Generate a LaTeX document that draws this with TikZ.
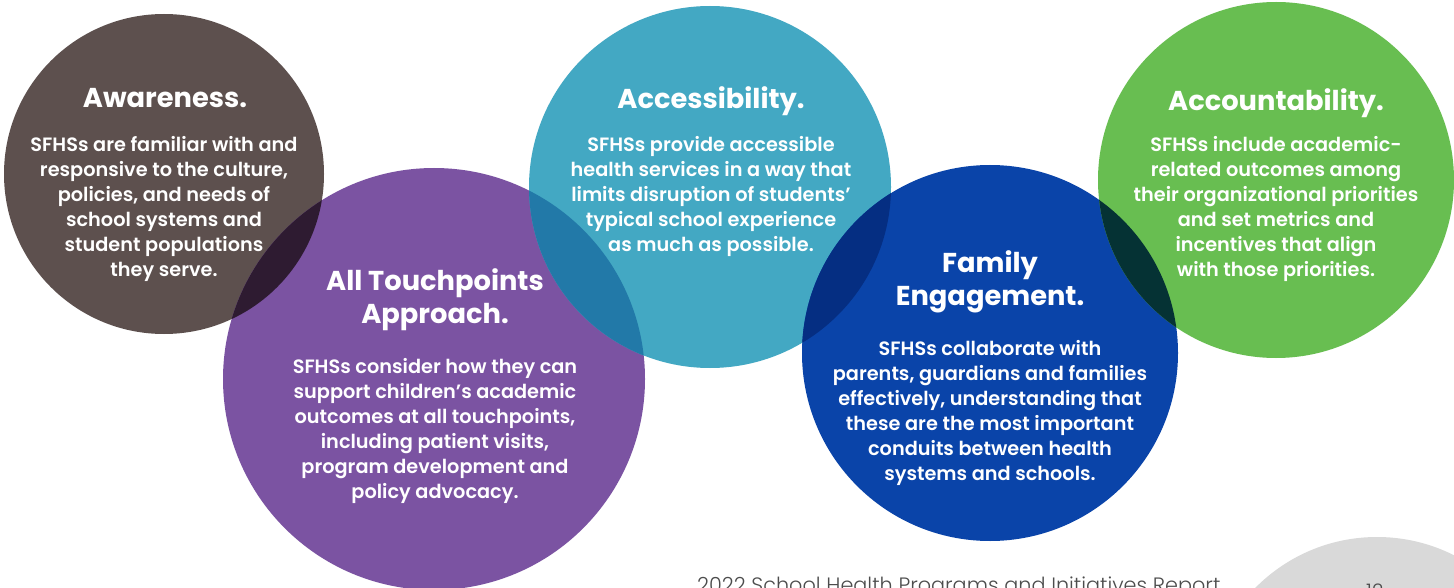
\documentclass[tikz,border=0pt]{standalone}
\usepackage{fontspec}
\newfontfamily\headfont{Poppins}[UprightFont=* Bold]
\newfontfamily\bodyfont{Poppins}[UprightFont=* SemiBold]
\newfontfamily\footfont{Poppins}[UprightFont=* Light]
\usetikzlibrary{positioning}

\definecolor{awarecol}{HTML}{5D504E}
\definecolor{touchcol}{HTML}{7B53A2}
\definecolor{accesscol}{HTML}{43A8C3}
\definecolor{familycol}{HTML}{0A44A9}
\definecolor{accountcol}{HTML}{68BE51}
\definecolor{pagecol}{HTML}{D9D9D9}
\definecolor{awaretouch}{HTML}{2E1B31}
\definecolor{touchaccess}{HTML}{2279A8}
\definecolor{accessfamily}{HTML}{052E82}
\definecolor{familyaccount}{HTML}{053234}

\tikzset{
  head/.style={text=white, align=center, inner sep=0pt, anchor=north,
    font=\headfont\fontsize{27.3}{33.5}\selectfont},
  body/.style={text=white, align=center, inner sep=0pt, anchor=north,
    font=\bodyfont\fontsize{19.3}{25}\selectfont},
}

\begin{document}
\begin{tikzpicture}[x=1pt,y=-1pt]
\useasboundingbox (0,0) rectangle (1454,588);
\clip (0,0) rectangle (1454,588);
\fill[white] (0,0) rectangle (1454,588);
% the five discs and the page disc
\foreach \cx/\cy/\r/\col in {164/174/160/awarecol, 434/379/211/touchcol, 710/187/181/accesscol, 990/353/188/familycol, 1276/180/178/accountcol, 1377/708/171/pagecol}
  \fill[\col] (\cx,\cy) circle (\r);
% darker lenses where two discs meet
\foreach \ax/\ay/\ar/\bx/\by/\br/\col in {164/174/160/434/379/211/awaretouch, 434/379/211/710/187/181/touchaccess, 710/187/181/990/353/188/accessfamily, 990/353/188/1276/180/178/familyaccount}
{
  \begin{scope}
    \clip (\ax,\ay) circle (\ar);
    \fill[\col] (\bx,\by) circle (\br);
  \end{scope}
}

\node[head] (awareT) at (165,88) {Awareness.};
\node[body] (awareB) at (164,136) {SFHSs are familiar with and\\responsive to the culture,\\policies, and needs of\\school systems and\\student populations\\they serve.};

\node[head] (accessT) at (711,86) {Accessibility.};
\node[body] (accessB) at (711,136) {SFHSs provide accessible\\health services in a way that\\limits disruption of students’\\typical school experience\\as much as possible.};

\node[head] (accountT) at (1276,88) {Accountability.};
\node[body] (accountB) at (1276,136) {SFHSs include academic-\\related outcomes among\\their organizational priorities\\and set metrics and\\incentives that align\\with those priorities.};

\node[head] (touchT) at (435,268) {All Touchpoints\\Approach.};
\node[body] (touchB) at (435,358) {SFHSs consider how they can\\support children’s academic\\outcomes at all touchpoints,\\including patient visits,\\program development and\\policy advocacy.};

\node[head] (familyT) at (990,250) {Family\\Engagement.};
\node[body] (familyB) at (990,340) {SFHSs collaborate with\\parents, guardians and families\\effectively, understanding that\\these are the most important\\conduits between health\\systems and schools.};

\node[anchor=north west, inner sep=0pt, text=black!70, font=\footfont\fontsize{20.8}{24}\selectfont] (report) at (697,577) {2022 School Health Programs and Initiatives Report};
\node[anchor=north west, inner sep=0pt, text=black!70, font=\footfont\fontsize{20}{24}\selectfont] (pageno) at (1366,584) {12};
\end{tikzpicture}
\end{document}
